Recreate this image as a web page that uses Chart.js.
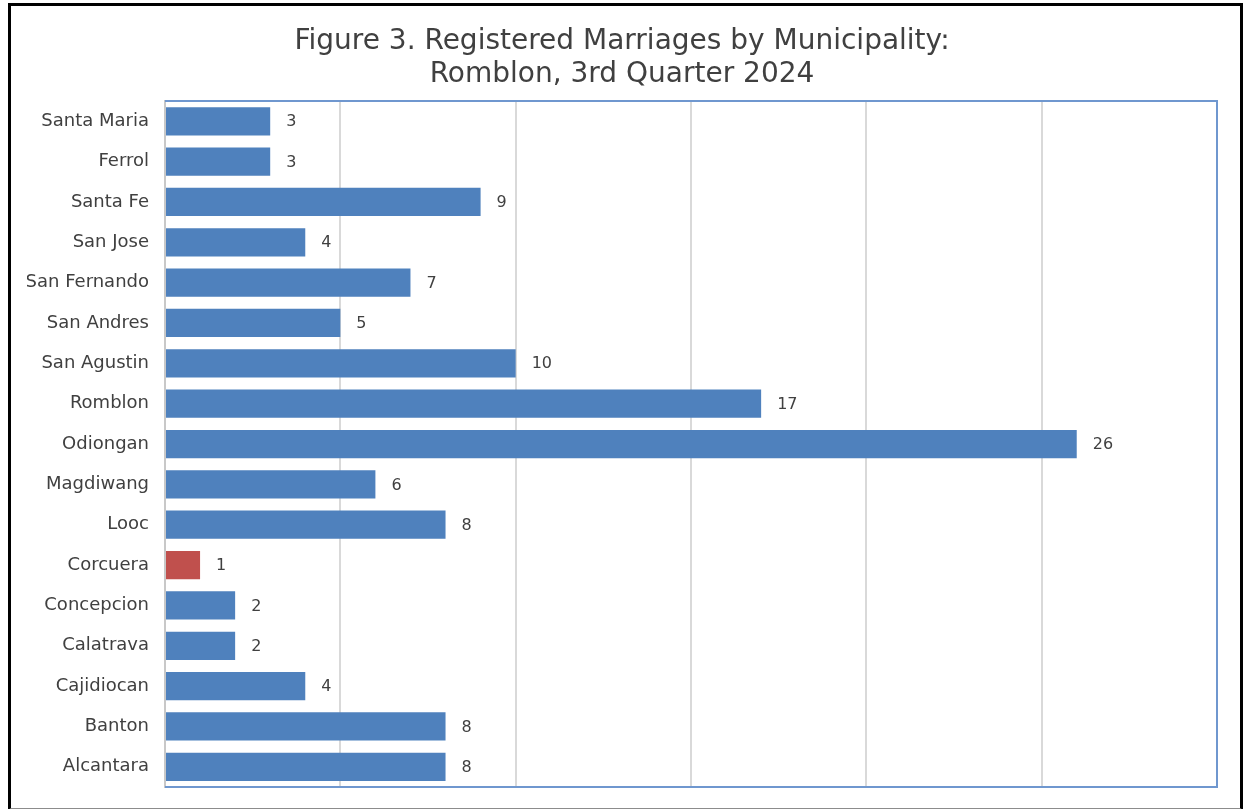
<!DOCTYPE html>
<html>
<head>
<meta charset="utf-8">
<title>Registered Marriages by Municipality</title>
<script src="https://cdn.jsdelivr.net/npm/chart.js@4.4.1/dist/chart.umd.min.js"></script>
<style>
    html, body { margin: 0; padding: 0; background: #fff; }
    #wrap { position: absolute; left: 0; top: 0; width: 1244px; height: 809px; }
    #frame {
        position: absolute; left: 8px; top: 3px; width: 1229px; height: 802px;
        border-left: 3px solid #000; border-top: 3px solid #000; border-right: 3px solid #000;
        border-bottom: 2px solid #8c8c8c; pointer-events: none;
    }
</style>
</head>
<body>
<div id="wrap">
    <canvas id="marriageChart" width="1244" height="809"></canvas>
    <div id="frame"></div>
</div>
<script>
// Municipalities, top to bottom as shown in the figure
const municipalities = [
    'Santa Maria', 'Ferrol', 'Santa Fe', 'San Jose', 'San Fernando', 'San Andres',
    'San Agustin', 'Romblon', 'Odiongan', 'Magdiwang', 'Looc', 'Corcuera',
    'Concepcion', 'Calatrava', 'Cajidiocan', 'Banton', 'Alcantara'
];
const marriages = [3, 3, 9, 4, 7, 5, 10, 17, 26, 6, 8, 1, 2, 2, 4, 8, 8];
const titleLines = ['Figure 3. Registered Marriages by Municipality:', 'Romblon, 3rd Quarter 2024'];

const blue = '#4f81bd';
const red = '#c0504d';
const textColor = '#404040';
const fontFamily = "'DejaVu Sans', 'Noto Sans', sans-serif";

// Lowest value gets the red bar
const minValue = Math.min(...marriages);
const barColors = marriages.map(v => v === minValue ? red : blue);

// Value labels at the end of each bar
const valueLabels = {
    id: 'valueLabels',
    afterDatasetsDraw(chart) {
        const ctx = chart.ctx;
        const meta = chart.getDatasetMeta(0);
        ctx.save();
        ctx.font = `16px ${fontFamily}`;
        ctx.fillStyle = textColor;
        ctx.textAlign = 'left';
        ctx.textBaseline = 'middle';
        meta.data.forEach((bar, i) => {
            ctx.fillText(String(marriages[i]), bar.x + 16, bar.y + 1);
        });
        ctx.restore();
    }
};

// Plot area outline (blue on top, right and bottom)
const plotBorder = {
    id: 'plotBorder',
    afterDraw(chart) {
        const { ctx, chartArea: a } = chart;
        ctx.save();
        ctx.strokeStyle = '#6f97cf';
        ctx.lineWidth = 2;
        ctx.beginPath();
        ctx.moveTo(a.left, a.top);
        ctx.lineTo(a.right, a.top);
        ctx.lineTo(a.right, a.bottom);
        ctx.lineTo(a.left, a.bottom);
        ctx.stroke();
        ctx.restore();
    }
};

const ctx = document.getElementById('marriageChart').getContext('2d');
new Chart(ctx, {
    type: 'bar',
    data: {
        labels: municipalities,
        datasets: [{
            data: marriages,
            backgroundColor: barColors,
            borderWidth: 0,
            barPercentage: 0.7,
            categoryPercentage: 1.0
        }]
    },
    options: {
        indexAxis: 'y',
        responsive: false,
        animation: false,
        // equal side padding keeps the title centred on the page
        layout: { padding: { top: 0, right: 27, bottom: 22, left: 27 } },
        plugins: {
            legend: { display: false },
            tooltip: { enabled: false },
            title: {
                display: true,
                text: titleLines,
                color: textColor,
                font: { family: fontFamily, size: 28, weight: 'normal', lineHeight: 1.18 },
                padding: { top: 25, bottom: 10 }
            }
        },
        scales: {
            x: {
                min: 0,
                max: 30,
                ticks: { display: false, stepSize: 5 },
                grid: {
                    color: c => c.tick.value === 0 ? 'rgba(0,0,0,0)' : '#d9d9d9',
                    lineWidth: 2,
                    drawTicks: false
                },
                border: { display: false },
                afterFit(scale) {
                    scale.height = 0;
                    scale.paddingLeft = 0;
                    scale.paddingRight = 0;
                }
            },
            y: {
                grid: { display: false, drawTicks: false },
                border: { display: true, color: '#c8c8c8', width: 2 },
                ticks: {
                    color: textColor,
                    padding: 16,
                    font: { family: fontFamily, size: 18 }
                },
                afterFit(scale) {
                    scale.width = 138;
                    scale.paddingTop = 0;
                    scale.paddingBottom = 0;
                }
            }
        }
    },
    plugins: [valueLabels, plotBorder]
});
</script>
</body>
</html>
